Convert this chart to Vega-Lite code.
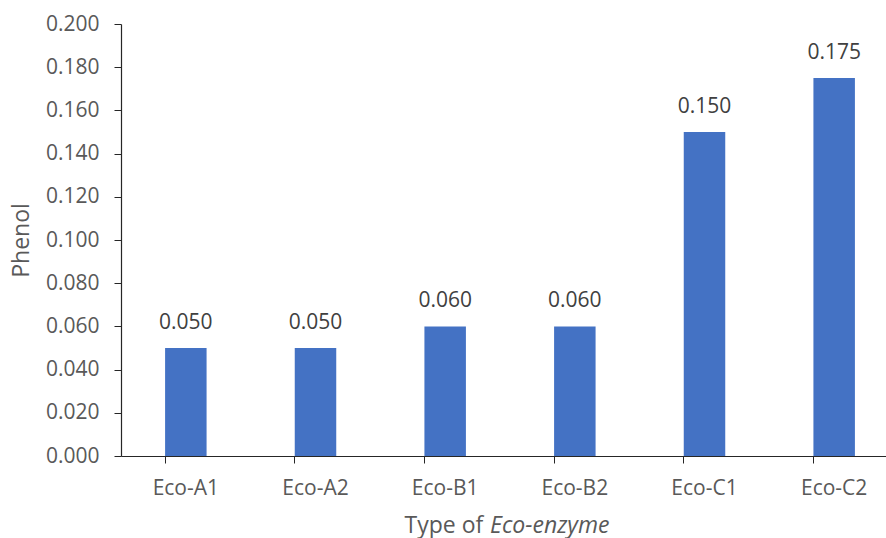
{
  "$schema": "https://vega.github.io/schema/vega-lite/v6.json",
  "width": 765,
  "height": 432,
  "autosize": {"type": "none"},
  "padding": {"left": 121, "top": 24, "right": 0, "bottom": 82},
  "background": "white",
  "config": {
    "view": {"stroke": null},
    "font": "Open Sans",
    "text": {"font": "Open Sans"}
  },
  "title": {
    "text": "Eco-enzyme",
    "orient": "bottom",
    "anchor": "start",
    "frame": "group",
    "dx": 369,
    "offset": 0,
    "dy": -4,
    "baseline": "alphabetic",
    "font": "Open Sans",
    "fontSize": 23,
    "fontStyle": "italic",
    "fontWeight": "normal",
    "color": "#595959"
  },
  "data": {
    "values": [
      {"type": "Eco-A1", "phenol": 0.050},
      {"type": "Eco-A2", "phenol": 0.050},
      {"type": "Eco-B1", "phenol": 0.060},
      {"type": "Eco-B2", "phenol": 0.060},
      {"type": "Eco-C1", "phenol": 0.150},
      {"type": "Eco-C2", "phenol": 0.175}
    ]
  },
  "encoding": {
    "x": {
      "field": "type",
      "type": "nominal",
      "sort": null,
      "scale": {"range": [0, 778], "paddingInner": 0.68, "paddingOuter": 0.34},
      "axis": {
        "title": "Type of",
        "titleX": 283,
        "titleY": 76,
        "titleAlign": "left",
        "titleAnchor": null,
        "titleBaseline": "alphabetic",
        "titleFont": "Open Sans",
        "titleFontSize": 23,
        "titleFontWeight": "normal",
        "titleColor": "#595959",
        "labelAngle": 0,
        "labelFont": "Open Sans",
        "labelFontSize": 21,
        "labelColor": "#595959",
        "labelPadding": 14,
        "bandPosition": 0,
        "ticks": true,
        "tickSize": 7,
        "tickColor": "#262626",
        "domainColor": "#262626",
        "domainWidth": 1.2,
        "grid": false
      }
    },
    "y": {
      "field": "phenol",
      "type": "quantitative",
      "scale": {"domain": [0, 0.2], "nice": false},
      "axis": {
        "title": "Phenol",
        "titleFont": "Open Sans",
        "titleFontSize": 23,
        "titleFontWeight": "normal",
        "titleColor": "#595959",
        "titlePadding": 12,
        "values": [0, 0.02, 0.04, 0.06, 0.08, 0.1, 0.12, 0.14, 0.16, 0.18, 0.2],
        "format": ".3f",
        "labelFont": "Open Sans",
        "labelFontSize": 21,
        "labelColor": "#595959",
        "labelPadding": 15,
        "tickSize": 7,
        "tickColor": "#262626",
        "domainColor": "#262626",
        "domainWidth": 1.2,
        "grid": false
      }
    }
  },
  "layer": [
    {"mark": {"type": "bar", "color": "#4472C4"}},
    {
      "mark": {
        "type": "text",
        "baseline": "alphabetic",
        "dy": -19,
        "font": "Open Sans",
        "fontSize": 21,
        "color": "#404040"
      },
      "encoding": {"text": {"field": "phenol", "type": "quantitative", "format": ".3f"}}
    }
  ]
}
